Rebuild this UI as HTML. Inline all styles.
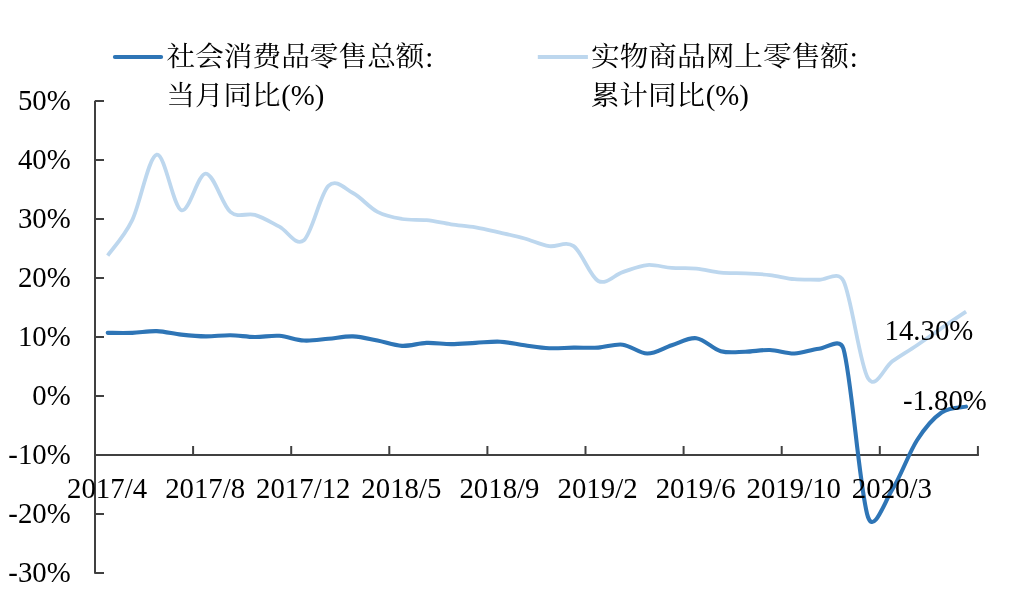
<!DOCTYPE html>
<html><head><meta charset="utf-8"><title>chart</title>
<style>html,body{margin:0;padding:0;background:#fff;}svg{display:block;will-change:transform;}</style></head>
<body>
<svg width="1022" height="599" viewBox="0 0 1022 599">
<rect width="1022" height="599" fill="#fff"/>
<g stroke="#404040" stroke-width="2" fill="none" stroke-linecap="butt">
<path d="M95.0,100.7 V573.7"/>
<path d="M95.0,101.00 H104.0"/>
<path d="M95.0,160.00 H104.0"/>
<path d="M95.0,219.00 H104.0"/>
<path d="M95.0,278.00 H104.0"/>
<path d="M95.0,337.00 H104.0"/>
<path d="M95.0,396.00 H104.0"/>
<path d="M95.0,455.00 H104.0"/>
<path d="M95.0,514.00 H104.0"/>
<path d="M95.0,573.00 H104.0"/>
<path d="M95.0,455.00 H978.9"/>
<path d="M193.10,455.00 v-9"/>
<path d="M291.20,455.00 v-9"/>
<path d="M389.30,455.00 v-9"/>
<path d="M487.40,455.00 v-9"/>
<path d="M585.50,455.00 v-9"/>
<path d="M683.60,455.00 v-9"/>
<path d="M781.70,455.00 v-9"/>
<path d="M879.80,455.00 v-9"/>
<path d="M977.90,455.00 v-9"/>
</g>
<path d="M107.70,255.58 C111.79,249.68 124.05,237.00 132.22,220.18 C140.40,203.37 148.57,156.36 156.75,154.69 C164.93,153.02 173.10,207.00 181.27,210.15 C189.45,213.30 197.62,173.27 205.80,173.57 C213.98,173.87 222.15,205.04 230.32,211.92 C238.50,218.80 246.67,212.41 254.85,214.87 C263.02,217.33 271.20,222.44 279.38,226.67 C287.55,230.90 295.72,247.03 303.90,240.24 C312.07,233.46 320.25,193.83 328.43,185.96 C336.60,178.09 344.77,188.71 352.95,193.04 C361.12,197.37 369.30,207.59 377.47,211.92 C385.65,216.25 393.82,217.62 402.00,219.00 C410.17,220.38 418.35,219.30 426.52,220.18 C434.70,221.06 442.87,223.13 451.05,224.31 C459.22,225.49 467.40,225.88 475.57,227.26 C483.75,228.64 491.92,230.70 500.10,232.57 C508.27,234.44 516.45,236.21 524.62,238.47 C532.80,240.73 540.98,244.86 549.15,246.14 C557.32,247.42 565.50,240.34 573.67,246.14 C581.85,251.94 590.03,276.62 598.20,280.95 C606.38,285.28 614.55,274.75 622.73,272.10 C630.90,269.45 639.08,265.71 647.25,265.02 C655.42,264.33 663.60,267.38 671.77,267.97 C679.95,268.56 688.12,267.77 696.30,268.56 C704.47,269.35 712.65,271.90 720.83,272.69 C729.00,273.48 737.18,272.89 745.35,273.28 C753.52,273.67 761.70,274.07 769.88,275.05 C778.05,276.03 786.23,278.39 794.40,279.18 C802.57,279.97 810.75,279.47 818.92,279.77 C827.10,280.06 837.98,269.96 843.45,280.95 C851.62,297.37 859.80,364.93 867.98,378.30 C875.77,391.06 884.33,366.70 892.50,361.19 C900.67,355.68 908.85,350.77 917.02,345.26 C925.20,339.75 933.38,333.75 941.55,328.15 C949.72,322.54 961.99,314.38 966.08,311.63" fill="none" stroke="#BDD7EE" stroke-width="3.8" stroke-linecap="butt" stroke-linejoin="round"/>
<path d="M107.70,332.87 C111.79,332.87 124.05,333.17 132.22,332.87 C140.40,332.57 148.57,330.81 156.75,331.10 C164.93,331.40 173.10,333.75 181.27,334.64 C189.45,335.52 197.62,336.31 205.80,336.41 C213.98,336.51 222.15,335.13 230.32,335.23 C238.50,335.33 246.67,336.90 254.85,337.00 C263.02,337.10 271.20,335.23 279.38,335.82 C287.55,336.41 295.72,340.05 303.90,340.54 C312.07,341.03 320.25,339.46 328.43,338.77 C336.60,338.08 344.77,336.11 352.95,336.41 C361.12,336.70 369.30,338.97 377.47,340.54 C385.65,342.11 393.82,345.46 402.00,345.85 C410.17,346.24 418.35,343.19 426.52,342.90 C434.70,342.60 442.87,344.08 451.05,344.08 C459.22,344.08 467.40,343.29 475.57,342.90 C483.75,342.51 491.92,341.33 500.10,341.72 C508.27,342.11 516.45,344.18 524.62,345.26 C532.80,346.34 540.98,347.82 549.15,348.21 C557.32,348.60 565.50,347.72 573.67,347.62 C581.85,347.52 590.03,348.11 598.20,347.62 C606.38,347.13 614.55,343.69 622.73,344.67 C630.90,345.65 639.08,353.42 647.25,353.52 C655.42,353.62 663.60,347.82 671.77,345.26 C679.95,342.70 688.12,337.20 696.30,338.18 C704.47,339.16 712.65,348.90 720.83,351.16 C729.00,353.42 737.18,351.95 745.35,351.75 C753.52,351.55 761.70,349.69 769.88,349.98 C778.05,350.28 786.23,353.72 794.40,353.52 C802.57,353.32 810.75,349.59 818.92,348.80 C827.10,348.01 840.02,337.03 843.45,348.80 C851.62,376.83 859.80,493.55 867.98,516.95 C874.08,534.42 884.33,502.00 892.50,489.22 C900.67,476.44 908.85,453.03 917.02,440.25 C925.20,427.47 933.38,418.12 941.55,412.52 C949.72,406.91 961.99,407.60 966.08,406.62" fill="none" stroke="#2E75B6" stroke-width="4.1" stroke-linecap="round" stroke-linejoin="round"/>
<g font-family="'Liberation Serif', serif" font-size="28.8" fill="#000">
<text x="70.7" y="110.40" text-anchor="end">50%</text>
<text x="70.7" y="169.40" text-anchor="end">40%</text>
<text x="70.7" y="228.40" text-anchor="end">30%</text>
<text x="70.7" y="287.40" text-anchor="end">20%</text>
<text x="70.7" y="346.40" text-anchor="end">10%</text>
<text x="70.7" y="405.40" text-anchor="end">0%</text>
<text x="70.7" y="464.40" text-anchor="end">-10%</text>
<text x="70.7" y="523.40" text-anchor="end">-20%</text>
<text x="70.7" y="582.40" text-anchor="end">-30%</text>
<text x="107.06" y="498.0" text-anchor="middle">2017/4</text>
<text x="205.16" y="498.0" text-anchor="middle">2017/8</text>
<text x="303.26" y="498.0" text-anchor="middle">2017/12</text>
<text x="401.36" y="498.0" text-anchor="middle">2018/5</text>
<text x="499.46" y="498.0" text-anchor="middle">2018/9</text>
<text x="597.56" y="498.0" text-anchor="middle">2019/2</text>
<text x="695.66" y="498.0" text-anchor="middle">2019/6</text>
<text x="793.76" y="498.0" text-anchor="middle">2019/10</text>
<text x="891.86" y="498.0" text-anchor="middle">2020/3</text>
<text x="884.5" y="339.5">14.30%</text>
<text x="902.9" y="409.5">-1.80%</text>
</g>
<path d="M114.9,56.95 H161.1" stroke="#2E75B6" stroke-width="4.1" stroke-linecap="round"/>
<path d="M537.8,56.9 H587.9" stroke="#BDD7EE" stroke-width="4" stroke-linecap="butt"/>
<g font-family="'Liberation Serif', serif" font-size="28.8" fill="#000">
<text x="425.26" y="67.0">:</text>
<text x="281.21" y="105.0">(%)</text>
<text x="849.77" y="67.0">:</text>
<text x="705.72" y="105.0">(%)</text>
</g>
<g font-family="'Liberation Serif', 'Noto Serif CJK SC', serif" font-size="27.4" fill="#000" stroke="none">
<text x="166.5" y="66.2" textLength="258" lengthAdjust="spacingAndGlyphs">社会消费品零售总额</text>
<text x="166.5" y="105.0" textLength="114" lengthAdjust="spacingAndGlyphs">当月同比</text>
<text x="591" y="66.2" textLength="258" lengthAdjust="spacingAndGlyphs">实物商品网上零售额</text>
<text x="591" y="105.0" textLength="114" lengthAdjust="spacingAndGlyphs">累计同比</text>
</g>
</svg>
</body></html>
